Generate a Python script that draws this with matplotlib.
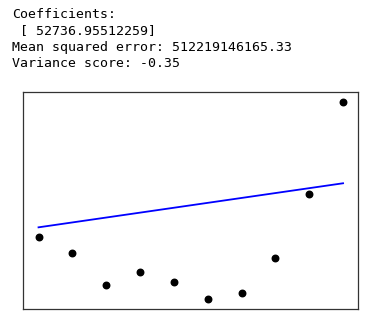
import numpy as np
import matplotlib
matplotlib.use("Agg")
import matplotlib.pyplot as plt

# === DATA ===
x_test = [1, 2, 3, 4, 5, 6, 7, 8, 9, 10]
y_test = [719000, 546000, 201000, 341000, 233000, 50000, 115000, 492000, 1183000, 2175000]
coef = 52736.95512259
intercept = 774000

output_lines = [
    "Coefficients:",
    " [ 52736.95512259]",
    "Mean squared error: 512219146165.33",
    "Variance score: -0.35",
]
baselines_px = [17.5, 34, 50.5, 67]

# === FIGURE ===
W, H = 381, 327
fig = plt.figure(figsize=(W / 100, H / 100), dpi=100)

for line, base in zip(output_lines, baselines_px):
    fig.text(12 / W, 1 - base / H, line, family="DejaVu Sans Mono",
             fontsize=9.5, va="baseline", ha="left", color="black")

ax = fig.add_axes([23.3 / W, 1 - 309.3 / H, 335 / W, 217 / H])
x = np.array(x_test)
y_pred = coef * x + intercept

ax.scatter(x, y_test, color="black", s=22, zorder=3)
ax.plot(x, y_pred, color="blue", linewidth=1.3)

ax.set_xticks([])
ax.set_yticks([])
for s in ax.spines.values():
    s.set_color("#333333")
    s.set_linewidth(0.9)

fig.savefig("out.png", dpi=100)
